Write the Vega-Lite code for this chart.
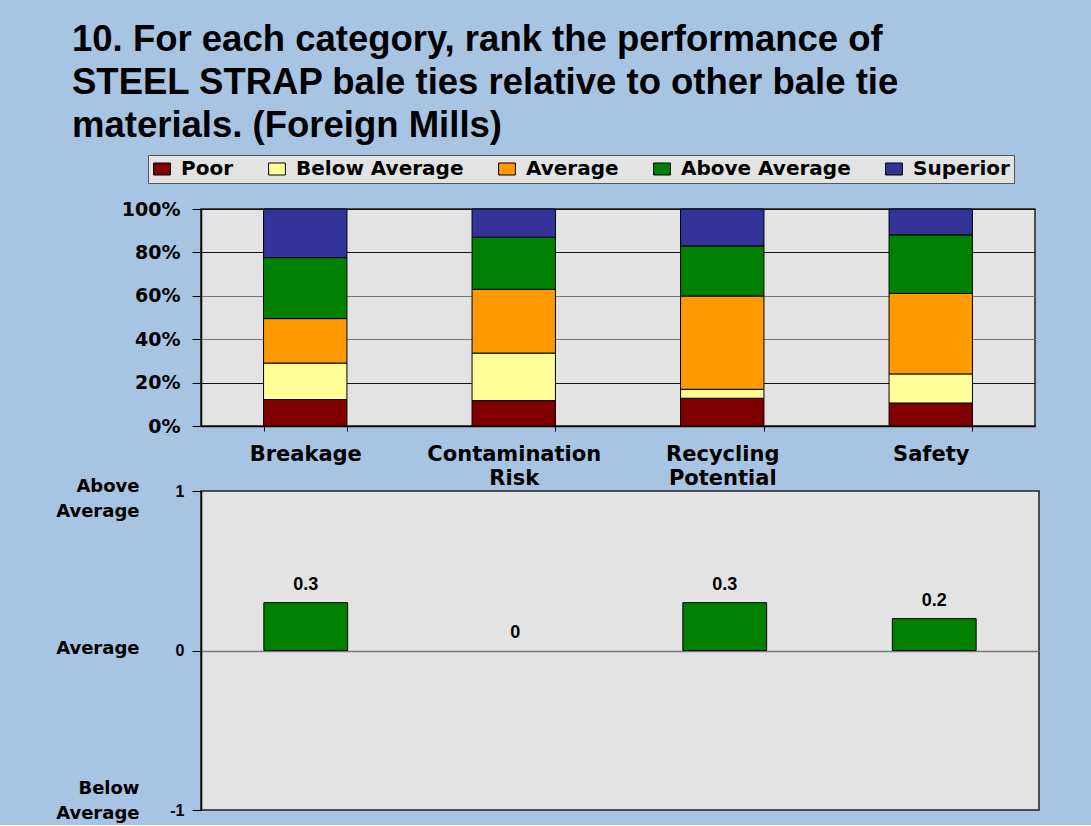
{
  "$schema": "https://vega.github.io/schema/vega-lite/v6.json",
  "background": "#A7C4E2",
  "padding": {"left": 54, "top": 22, "right": 52, "bottom": 2},
  "bounds": "flush",
  "spacing": 65,
  "title": {
    "text": ["10. For each category, rank the performance of", "STEEL STRAP bale ties relative to other bale tie", "materials. (Foreign Mills)"],
    "anchor": "start",
    "frame": "group",
    "font": "Liberation Sans",
    "fontSize": 36.5,
    "fontWeight": "bold",
    "lineHeight": 43,
    "color": "black",
    "dx": -129,
    "offset": 10
  },
  "config": {
    "view": {"fill": "#E3E3E3", "stroke": "#222", "strokeWidth": 1.5},
    "axis": {"labelColor": "black", "domainColor": "black", "tickColor": "black", "titleColor": "black"}
  },
  "datasets": {
    "ratings": [
      {"category": "Breakage", "rating": "Poor", "rank": 1, "pct": 12.2},
      {"category": "Breakage", "rating": "Below Average", "rank": 2, "pct": 16.8},
      {"category": "Breakage", "rating": "Average", "rank": 3, "pct": 20.5},
      {"category": "Breakage", "rating": "Above Average", "rank": 4, "pct": 28.1},
      {"category": "Breakage", "rating": "Superior", "rank": 5, "pct": 22.4},
      {"category": "Contamination Risk", "rating": "Poor", "rank": 1, "pct": 11.7},
      {"category": "Contamination Risk", "rating": "Below Average", "rank": 2, "pct": 21.9},
      {"category": "Contamination Risk", "rating": "Average", "rank": 3, "pct": 29.4},
      {"category": "Contamination Risk", "rating": "Above Average", "rank": 4, "pct": 24.0},
      {"category": "Contamination Risk", "rating": "Superior", "rank": 5, "pct": 13.0},
      {"category": "Recycling Potential", "rating": "Poor", "rank": 1, "pct": 12.8},
      {"category": "Recycling Potential", "rating": "Below Average", "rank": 2, "pct": 4.1},
      {"category": "Recycling Potential", "rating": "Average", "rank": 3, "pct": 43.0},
      {"category": "Recycling Potential", "rating": "Above Average", "rank": 4, "pct": 23.1},
      {"category": "Recycling Potential", "rating": "Superior", "rank": 5, "pct": 17.0},
      {"category": "Safety", "rating": "Poor", "rank": 1, "pct": 10.6},
      {"category": "Safety", "rating": "Below Average", "rank": 2, "pct": 13.4},
      {"category": "Safety", "rating": "Average", "rank": 3, "pct": 37.1},
      {"category": "Safety", "rating": "Above Average", "rank": 4, "pct": 27.0},
      {"category": "Safety", "rating": "Superior", "rank": 5, "pct": 11.9}
    ],
    "scores": [
      {"category": "Breakage", "score": 0.3},
      {"category": "Contamination Risk", "score": 0},
      {"category": "Recycling Potential", "score": 0.3},
      {"category": "Safety", "score": 0.2}
    ]
  },
  "vconcat": [
    {
      "width": 834,
      "height": 217,
      "data": {"name": "ratings"},
      "mark": {"type": "bar", "stroke": "black", "strokeWidth": 1},
      "encoding": {
        "x": {
          "field": "category", "type": "nominal",
          "sort": ["Breakage", "Contamination Risk", "Recycling Potential", "Safety"],
          "scale": {"paddingInner": 0.6, "paddingOuter": 0.3},
          "axis": {
            "title": null, "labelAngle": 0, "labelExpr": "split(datum.label, ' ')",
            "tickBand": "extent", "tickSize": 5, "labelPadding": 12,
            "labelFont": "DejaVu Sans", "labelFontSize": 21, "labelFontWeight": "bold",
            "labelLineHeight": 24, "labelOverlap": false, "labelLimit": 400, "labelBaseline": "top",
            "domainWidth": 1.5, "grid": false
          }
        },
        "y": {
          "field": "pct", "type": "quantitative", "stack": "normalize",
          "scale": {"domain": [0, 1]},
          "axis": {
            "title": null, "values": [0, 0.2, 0.4, 0.6, 0.8, 1], "format": ".0%",
            "tickSize": 9, "labelPadding": 12,
            "labelFont": "DejaVu Sans", "labelFontSize": 19, "labelFontWeight": "bold",
            "grid": true, "gridOpacity": 1,
            "gridColor": {"condition": {"test": "datum.value == 0.4 || datum.value == 0.6", "value": "#777"}, "value": "#111"},
            "domainWidth": 1.5
          }
        },
        "color": {
          "field": "rating", "type": "nominal",
          "scale": {
            "domain": ["Poor", "Below Average", "Average", "Above Average", "Superior"],
            "range": ["#800000", "#FFFF99", "#FF9900", "#008000", "#333399"]
          },
          "legend": {
            "title": null, "orient": "none", "direction": "horizontal",
            "legendX": -53, "legendY": -54,
            "fillColor": "#E3E3E3", "strokeColor": "#555", "padding": 4,
            "symbolType": "M-1.4,-1H1.4V1H-1.4Z", "symbolSize": 144, "symbolStrokeColor": "black", "symbolStrokeWidth": 1, "symbolOpacity": 1,
            "labelFont": "DejaVu Sans", "labelFontSize": 20, "labelFontWeight": "bold", "labelColor": "black",
            "labelOffset": 9, "columnPadding": 32, "labelLimit": 400
          }
        },
        "order": {"field": "rank", "type": "quantitative"}
      }
    },
    {
      "width": 838,
      "height": 319,
      "data": {"name": "scores"},
      "encoding": {
        "x": {
          "field": "category", "type": "nominal",
          "sort": ["Breakage", "Contamination Risk", "Recycling Potential", "Safety"],
          "scale": {"paddingInner": 0.6, "paddingOuter": 0.3},
          "axis": null
        }
      },
      "layer": [
        {
          "mark": {"type": "bar", "color": "#008000", "stroke": "black", "strokeWidth": 1},
          "encoding": {
            "y": {
              "field": "score", "type": "quantitative",
              "scale": {"domain": [-1, 1]},
              "axis": {
                "title": null, "orient": "left", "values": [-1, 0, 1],
                "labelExpr": "datum.value == -1 ? '-1' : datum.value == 1 ? '1' : '0'",
                "tickSize": 9, "labelPadding": 8,
                "labelFont": "Liberation Sans", "labelFontSize": 16, "labelFontWeight": "bold",
                "grid": true, "gridColor": "#777", "gridWidth": 1.5,
                "gridOpacity": {"condition": {"test": "datum.value == 0", "value": 1}, "value": 0},
                "domainWidth": 1.5
              }
            },
            "strokeOpacity": {"condition": {"test": "datum.score == 0", "value": 0}, "value": 1}
          }
        },
        {
          "mark": {"type": "text", "baseline": "bottom", "dy": -9, "font": "Liberation Sans", "fontSize": 18, "fontWeight": "bold", "color": "black"},
          "encoding": {
            "y": {
              "field": "score", "type": "quantitative",
              "axis": {
                "title": null, "orient": "left", "values": [-1, 0, 1],
                "labelExpr": "datum.value == 1 ? ['Above', 'Average'] : datum.value == 0 ? 'Average' : ['Below', 'Average']",
                "domain": false, "ticks": false, "grid": false, "labelPadding": 62,
                "labelFont": "DejaVu Sans", "labelFontSize": 18, "labelFontWeight": "bold", "labelLineHeight": 25,
                "labelAlign": "right", "labelBaseline": "middle",
                "labelOffset": {"condition": [{"test": "datum.value == 1", "value": -5}, {"test": "datum.value == -1", "value": -22}], "value": -2}
              }
            },
            "text": {"field": "score", "type": "quantitative"}
          }
        }
      ],
      "resolve": {"axis": {"y": "independent"}}
    }
  ]
}
